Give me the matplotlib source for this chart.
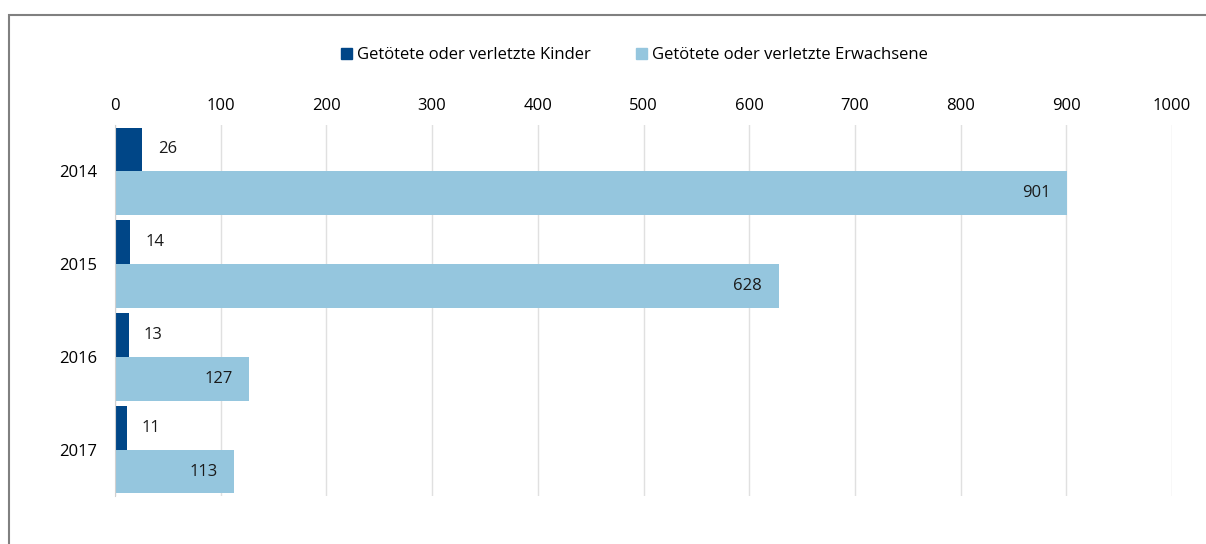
import numpy as np
import matplotlib.pyplot as plt
from matplotlib.patches import Patch, Rectangle

years = ['2014', '2015', '2016', '2017']
kinder = [26, 14, 13, 11]
erwachsene = [901, 628, 127, 113]
labels = ['Getötete oder verletzte Kinder', 'Getötete oder verletzte Erwachsene']

c_dark = '#004687'
c_light = '#95C6DE'

plt.rcParams['font.family'] = ['Open Sans', 'DejaVu Sans']
fs = 12

fig = plt.figure(figsize=(12.06, 5.44), dpi=100)
ax = fig.add_axes([115/1206, 1-496/544, (1172-115)/1206, (496-125)/544])

y = np.arange(len(years))
h = 0.473
ax.barh(y - h/2, kinder, height=h, color=c_dark, zorder=3)
ax.barh(y + h/2, erwachsene, height=h, color=c_light, zorder=3)

for yi, k, e in zip(y, kinder, erwachsene):
    ax.annotate(str(k), (k, yi - h/2), xytext=(11, 0), textcoords='offset points',
                ha='left', va='center', fontsize=fs, color='#1a1a1a')
    ax.annotate(str(e), (e, yi + h/2), xytext=(-12, 0), textcoords='offset points',
                ha='right', va='center', fontsize=fs, color='#1a1a1a')

ax.set_xlim(0, 1000)
ax.set_ylim(len(years) - 0.5, -0.5)
ax.set_yticks(y)
ax.set_yticklabels(years, fontsize=fs)
ax.set_xticks(np.arange(0, 1001, 100))
ax.xaxis.tick_top()
ax.tick_params(axis='x', length=0, pad=8, labelsize=fs)
ax.tick_params(axis='y', length=0, pad=13)
ax.grid(axis='x', color='#E0E0E0', linewidth=1.0, zorder=0)
for s in ['top', 'right', 'bottom']:
    ax.spines[s].set_visible(False)
ax.spines['left'].set_color('#D0D0D0')
ax.spines['left'].set_zorder(4)

handles = [Patch(color=c_dark), Patch(color=c_light)]
fig.legend(handles, labels, loc='center', bbox_to_anchor=(0.526, 1-55/544), ncol=2,
           frameon=False, fontsize=fs, handlelength=0.65, handleheight=0.65,
           handletextpad=0.3, columnspacing=2.7)

fig.patches.append(Rectangle((9/1206, -0.1), 1.2, 0.1 + 1-15/544, transform=fig.transFigure,
                             fill=False, edgecolor='#808080', linewidth=1.5))

fig.savefig('out.png', dpi=100)
